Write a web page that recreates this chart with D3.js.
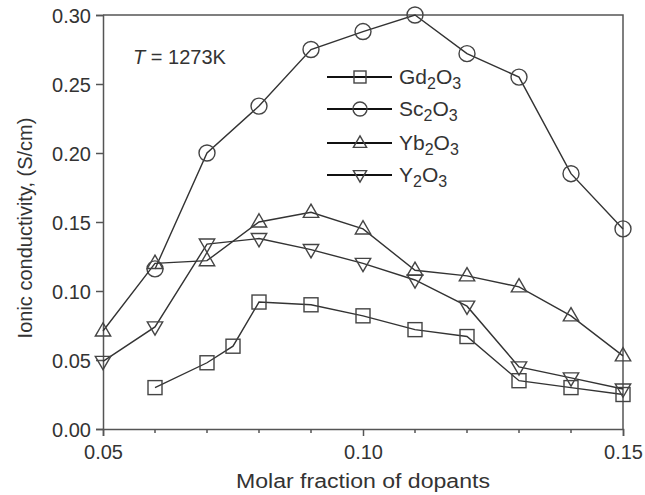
<!DOCTYPE html>
<html>
<head>
<meta charset="utf-8">
<script src="https://cdn.jsdelivr.net/npm/d3@7"></script>
<style>
  html, body { margin: 0; padding: 0; background: #fff; }
  svg { display: block; font-family: "Liberation Sans", Arial, Helvetica, sans-serif; }
</style>
</head>
<body>
<svg id="chart" width="645" height="495"></svg>
<script>
// ---- data ----
const xGd = [0.06, 0.07, 0.075, 0.08, 0.09, 0.10, 0.11, 0.12, 0.13, 0.14, 0.15];
const yGd = [0.030, 0.048, 0.060, 0.092, 0.090, 0.082, 0.072, 0.067, 0.035, 0.030, 0.025];
const xSc = [0.06, 0.07, 0.08, 0.09, 0.10, 0.11, 0.12, 0.13, 0.14, 0.15];
const ySc = [0.116, 0.200, 0.234, 0.275, 0.288, 0.300, 0.272, 0.255, 0.185, 0.145];
const xYb = [0.05, 0.06, 0.07, 0.08, 0.09, 0.10, 0.11, 0.12, 0.13, 0.14, 0.15];
const yYb = [0.071, 0.120, 0.122, 0.150, 0.157, 0.145, 0.115, 0.111, 0.103, 0.082, 0.053];
const xY  = [0.05, 0.06, 0.07, 0.08, 0.09, 0.10, 0.11, 0.12, 0.13, 0.14, 0.15];
const yY  = [0.049, 0.074, 0.134, 0.138, 0.130, 0.120, 0.108, 0.089, 0.045, 0.037, 0.029];
const seriesNames = [["Gd", "2", "O", "3"], ["Sc", "2", "O", "3"], ["Yb", "2", "O", "3"], ["Y", "2", "O", "3"]];
const markerKinds = ["square", "circle", "up", "down"];
const xTicks = [0.05, 0.10, 0.15];
const xMinor = [0.06, 0.07, 0.08, 0.09, 0.11, 0.12, 0.13, 0.14];
const yTicks = [0.00, 0.05, 0.10, 0.15, 0.20, 0.25, 0.30];
const xTitle = "Molar fraction of dopants";
const yTitle = "Ionic conductivity, (S/cm)";

// ---- layout ----
const svg = d3.select("#chart");
const L = 103, R = 623, T = 15, B = 429;
const x = d3.scaleLinear().domain([0.05, 0.15]).range([L, R]);
const y = d3.scaleLinear().domain([0, 0.30]).range([B, T]);
const axisColor = "#555";
const lineColor = "#333";
const markColor = "#444";

// frame (top & right)
svg.append("path")
  .attr("d", `M${L},${T}H${R}V${B}`)
  .attr("fill", "none").attr("stroke", axisColor).attr("stroke-width", 1.5);

// x axis
const gx = svg.append("g").attr("transform", `translate(0,${B})`)
  .call(d3.axisBottom(x).tickValues(xTicks).tickFormat(d3.format(".2f")).tickSizeOuter(0).tickSize(7).tickPadding(6));
gx.append("g").selectAll("line").data(xMinor).join("line")
  .attr("x1", d => x(d)).attr("x2", d => x(d)).attr("y1", 0).attr("y2", 4)
  .attr("stroke", axisColor).attr("stroke-width", 1.5);

// y axis
const gy = svg.append("g").attr("transform", `translate(${L},0)`)
  .call(d3.axisLeft(y).tickValues(yTicks).tickFormat(d3.format(".2f")).tickSizeOuter(0).tickSize(7).tickPadding(5));

[gx, gy].forEach(g => {
  g.select(".domain").attr("stroke", axisColor).attr("stroke-width", 1.5);
  g.selectAll(".tick line").attr("stroke", axisColor).attr("stroke-width", 1.5);
  g.selectAll(".tick text").attr("fill", "#333").attr("font-size", 20)
    .attr("font-family", "'Liberation Sans', Arial, sans-serif");
});
gx.selectAll(".tick text").attr("dy", "0.85em");
gy.selectAll(".tick text").attr("dy", "0.36em");

// axis titles
svg.append("text").attr("x", (L + R) / 2).attr("y", 488)
  .attr("text-anchor", "middle").attr("font-size", 20).attr("fill", "#333")
  .attr("textLength", 254).attr("lengthAdjust", "spacingAndGlyphs")
  .text(xTitle);
svg.append("text").attr("transform", `translate(32,${(T + B) / 2 + 6}) rotate(-90)`)
  .attr("text-anchor", "middle").attr("font-size", 20).attr("fill", "#333")
  .text(yTitle);

// annotation
const ann = svg.append("text").attr("x", 133).attr("y", 64).attr("font-size", 20).attr("fill", "#333");
ann.append("tspan").attr("font-style", "italic").text("T");
ann.append("tspan").text(" = 1273K");

// markers
function marker(g, kind, cx, cy, s) {
  let el;
  if (kind === "square") {
    el = g.append("rect").attr("x", cx - s / 2).attr("y", cy - s / 2).attr("width", s).attr("height", s);
  } else if (kind === "circle") {
    el = g.append("circle").attr("cx", cx).attr("cy", cy).attr("r", s / 2 + 1);
  } else if (kind === "up") {
    const h = s * 0.95, w = s * 1.1;
    el = g.append("path").attr("d", `M${cx},${cy - h * 0.62}L${cx + w / 2},${cy + h * 0.38}L${cx - w / 2},${cy + h * 0.38}Z`);
  } else {
    const h = s * 0.95, w = s * 1.1;
    el = g.append("path").attr("d", `M${cx},${cy + h * 0.62}L${cx + w / 2},${cy - h * 0.38}L${cx - w / 2},${cy - h * 0.38}Z`);
  }
  el.attr("fill", "none").attr("stroke", markColor).attr("stroke-width", 1.4);
}

const allSeries = [[xGd, yGd], [xSc, ySc], [xYb, yYb], [xY, yY]];
const line = d3.line().x(d => x(d[0])).y(d => y(d[1]));
allSeries.forEach(([xs, ys], i) => {
  const pts = xs.map((v, j) => [v, ys[j]]);
  const g = svg.append("g");
  g.append("path").attr("d", line(pts)).attr("fill", "none")
    .attr("stroke", lineColor).attr("stroke-width", 1.4);
  pts.forEach(p => marker(g, markerKinds[i], x(p[0]), y(p[1]), 14));
});

// legend
const legY = [77, 109, 143, 175];
seriesNames.forEach((nm, i) => {
  const g = svg.append("g");
  g.append("line").attr("x1", 327).attr("x2", 392).attr("y1", legY[i]).attr("y2", legY[i])
    .attr("stroke", "#111").attr("stroke-width", 2.2);
  marker(g, markerKinds[i], 360, legY[i], 12);
  const t = g.append("text").attr("x", 399).attr("y", legY[i] + 7).attr("font-size", 21).attr("fill", "#333");
  t.append("tspan").text(nm[0]);
  t.append("tspan").attr("font-size", 16).attr("dy", 5).text(nm[1]);
  t.append("tspan").attr("dy", -5).text(nm[2]);
  t.append("tspan").attr("font-size", 16).attr("dy", 5).text(nm[3]);
});
</script>
</body>
</html>
